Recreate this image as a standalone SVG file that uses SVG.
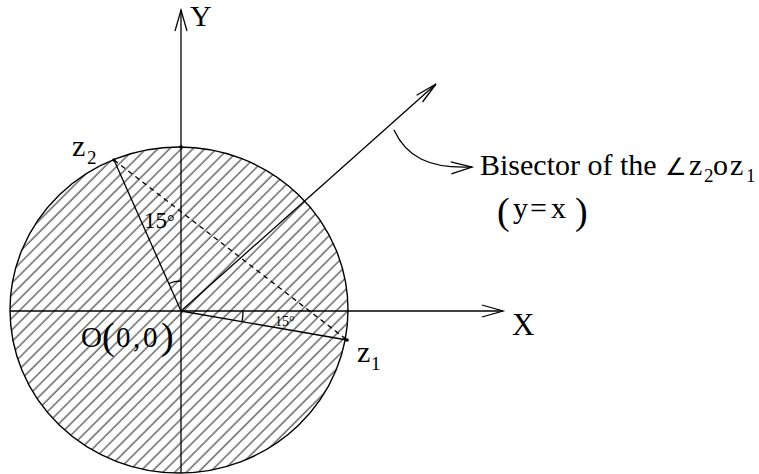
<svg xmlns="http://www.w3.org/2000/svg" width="759" height="474" viewBox="0 0 759 474">
<style>
.ln{stroke:#000;stroke-width:1.3;fill:none}
.tx{font-family:"Liberation Serif","Times New Roman",serif;fill:#000}
</style>
<defs>
<pattern id="hatch" patternUnits="userSpaceOnUse" width="8.3" height="12" patternTransform="rotate(45)">
<line x1="1" y1="0" x2="1" y2="12" stroke="#333" stroke-width="1.1"/>
</pattern>
<marker id="open" markerUnits="userSpaceOnUse" markerWidth="30" markerHeight="20" viewBox="-25 -10 30 20" refX="0" refY="0" orient="auto">
<path d="M-21,-6 L0,0 L-21,6" fill="none" stroke="#000" stroke-width="1.3"/>
</marker>
<marker id="narrow" markerUnits="userSpaceOnUse" markerWidth="30" markerHeight="20" viewBox="-25 -10 30 20" refX="0" refY="0" orient="auto">
<path d="M-22,-4.5 L0,0 L-22,4.5" fill="none" stroke="#000" stroke-width="1.3"/>
</marker>
</defs>
<g id="region">
<ellipse cx="179" cy="310" rx="169" ry="163" fill="url(#hatch)" stroke="#000" stroke-width="1.4"/>
</g>
<g id="connectors">
<line class="ln" x1="10" y1="311" x2="503" y2="311" marker-end="url(#open)"/>
<line class="ln" x1="181" y1="473" x2="181" y2="10" marker-end="url(#open)"/>
<line class="ln" x1="181" y1="311" x2="436" y2="84" marker-end="url(#narrow)"/>
<line class="ln" x1="181" y1="311" x2="114" y2="160"/>
<line class="ln" x1="181" y1="311" x2="347" y2="340"/>
<line class="ln" x1="114" y1="160" x2="347" y2="340" stroke-dasharray="5,4" stroke-width="1.1"/>
<path class="ln" d="M394,130 C406,156 428,169 472,167" marker-end="url(#open)"/>
<path class="ln" d="M168.8,283.5 A30,30 0 0 1 181,281" stroke-width="1.1"/>
<path class="ln" d="M243,311 A62,62 0 0 1 242,322" stroke-width="1.1"/>
</g>
<g id="points">
<circle cx="114" cy="160" r="1.8" fill="#000"/>
<circle cx="347" cy="340" r="1.8" fill="#000"/>
<circle cx="181" cy="147" r="1.8" fill="#000"/>
</g>
<g id="labels">
<text class="tx" x="190" y="26" font-size="30">Y</text>
<text class="tx" x="512" y="335" font-size="31">X</text>
<text class="tx" x="72" y="156" font-size="30">z<tspan font-size="19" x="87" y="164">2</tspan></text>
<text class="tx" x="357" y="362" font-size="30">z<tspan font-size="19" x="371" y="370">1</tspan></text>
<text class="tx" y="347" font-size="29"><tspan x="81">O</tspan><tspan x="102" y="349" font-size="38">(</tspan><tspan x="116" y="347">0</tspan><tspan x="133">,</tspan><tspan x="143">0</tspan><tspan x="161" y="349" font-size="38">)</tspan></text>
<text class="tx" x="144" y="228" font-size="23">15<tspan font-size="19">°</tspan></text>
<text class="tx" x="275" y="326" font-size="14">15°</text>
<text class="tx" x="480" y="175" font-size="30">Bisector of the</text>
<text class="tx" y="175" font-size="30"><tspan x="665" font-size="24">∠</tspan><tspan x="689">z</tspan><tspan x="704" y="182" font-size="19">2</tspan><tspan x="713" y="175">o</tspan><tspan x="730">z</tspan><tspan x="746" y="182" font-size="19">1</tspan></text>
<text class="tx" y="218" font-size="30"><tspan x="497" y="224" font-size="38">(</tspan><tspan x="513" y="218">y</tspan><tspan x="530">=</tspan><tspan x="551">x</tspan><tspan x="575" y="224" font-size="38">)</tspan></text>
</g>
</svg>
